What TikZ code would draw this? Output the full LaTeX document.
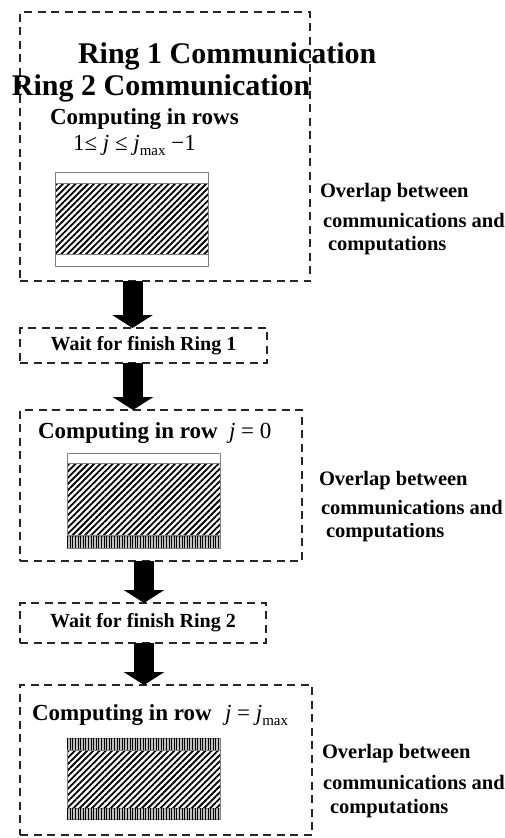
\documentclass[tikz,border=0pt]{standalone}
\usepackage{fontspec}
\setmainfont{Liberation Serif}
\usetikzlibrary{arrows.meta,patterns.meta}
\newcommand{\subtxt}[1]{\raisebox{-0.22em}{\fontsize{15}{16}\selectfont #1}}
\tikzset{
  dbox/.style={draw=black!85, line width=2.4pt, dash pattern=on 8pt off 5.5pt, rectangle, inner sep=0pt, outer sep=0pt},
  lbl/.style={inner sep=0pt, outer sep=0pt, anchor=base west},
  bigfont/.style={font=\bfseries\fontsize{30}{34}\selectfont},
  midfont/.style={font=\bfseries\fontsize{23}{26}\selectfont},
  mathfont/.style={font=\fontsize{23}{26}\selectfont},
  smallfont/.style={font=\bfseries\fontsize{20.5}{24}\selectfont},
  waitfont/.style={font=\bfseries\fontsize{20}{24}\selectfont},
  bigarrow/.style={draw=black, line width=20pt, -{Triangle[width=40pt,length=13pt]}},
  frameband/.style={draw=black!50, line width=1pt},
  hatchband/.style={frameband, pattern={Lines[angle=45,distance=4.4pt,line width=1.8pt]}},
  vband/.style={frameband, fill=black!25, postaction={pattern={Lines[angle=90,distance=2.6pt,line width=0.8pt]}}},
  whiteband/.style={frameband, fill=white}
}
\begin{document}
\begin{tikzpicture}[x=1pt,y=-1pt]
\useasboundingbox (0,0) rectangle (505,838);
\fill[white] (0,0) rectangle (505,838);

% dashed boxes
\node[dbox, anchor=north west, minimum width=290pt, minimum height=269pt] (b1) at (20,12) {};
\node[dbox, anchor=north west, minimum width=247pt, minimum height=35pt, waitfont] (b2) at (20,328) {Wait for finish Ring 1};
\node[dbox, anchor=north west, minimum width=282pt, minimum height=151pt] (b3) at (20,410) {};
\node[dbox, anchor=north west, minimum width=246pt, minimum height=40pt, waitfont] (b4) at (20,603) {Wait for finish Ring 2};
\node[dbox, anchor=north west, minimum width=292pt, minimum height=150pt] (b5) at (20,685) {};

% box 1 contents
\node[lbl, bigfont] (t1a) at (78,63) {Ring 1 Communication};
\node[lbl, bigfont] (t1b) at (12,95) {Ring 2 Communication};
\node[lbl, midfont] (t1c) at (50,124) {Computing in rows};
\node[lbl, mathfont] (t1d) at (73,150) {1≤ \textit{j} ≤ \textit{j}\subtxt{max} −1};
\path[whiteband] (55,172) rectangle (208,183);
\path[hatchband] (55,183) rectangle (208,254);
\path[whiteband] (55,254) rectangle (208,266);
\node[lbl, smallfont] (o1a) at (320,197) {Overlap between};
\node[lbl, smallfont] (o1b) at (323,227) {communications and};
\node[lbl, smallfont] (o1c) at (328,250) {computations};

% box 3 contents
\node[lbl, midfont] (t3a) at (38,438) {Computing in row};
\node[lbl, mathfont] (t3b) at (229,438) {\textit{j} = 0};
\path[whiteband] (67,453) rectangle (220,463);
\path[hatchband] (67,463) rectangle (220,535);
\path[vband] (67,536) rectangle (220,548);
\node[lbl, smallfont] (o3a) at (319,485) {Overlap between};
\node[lbl, smallfont] (o3b) at (321,514) {communications and};
\node[lbl, smallfont] (o3c) at (326,537) {computations};

% box 5 contents
\node[lbl, midfont] (t5a) at (32,720) {Computing in row};
\node[lbl, mathfont] (t5b) at (225,720) {\textit{j} = \textit{j}\subtxt{max}};
\path[vband] (67,738) rectangle (220,750);
\path[hatchband] (67,750) rectangle (220,808);
\path[vband] (67,808) rectangle (220,819);
\node[lbl, smallfont] (o5a) at (322,758) {Overlap between};
\node[lbl, smallfont] (o5b) at (323,789) {communications and};
\node[lbl, smallfont] (o5c) at (330,813) {computations};

% arrows
\coordinate (ax1) at (132.5,0);
\coordinate (ax2) at (133,0);
\coordinate (ax3) at (144,0);
\coordinate (ax4) at (144,0);
\draw[bigarrow] (ax1 |- b1.south) -- (ax1 |- b2.north);
\draw[bigarrow] (ax2 |- b2.south) -- (ax2 |- b3.north);
\draw[bigarrow] (ax3 |- b3.south) -- (ax3 |- b4.north);
\draw[bigarrow] (ax4 |- b4.south) -- (ax4 |- b5.north);
\end{tikzpicture}
\end{document}
